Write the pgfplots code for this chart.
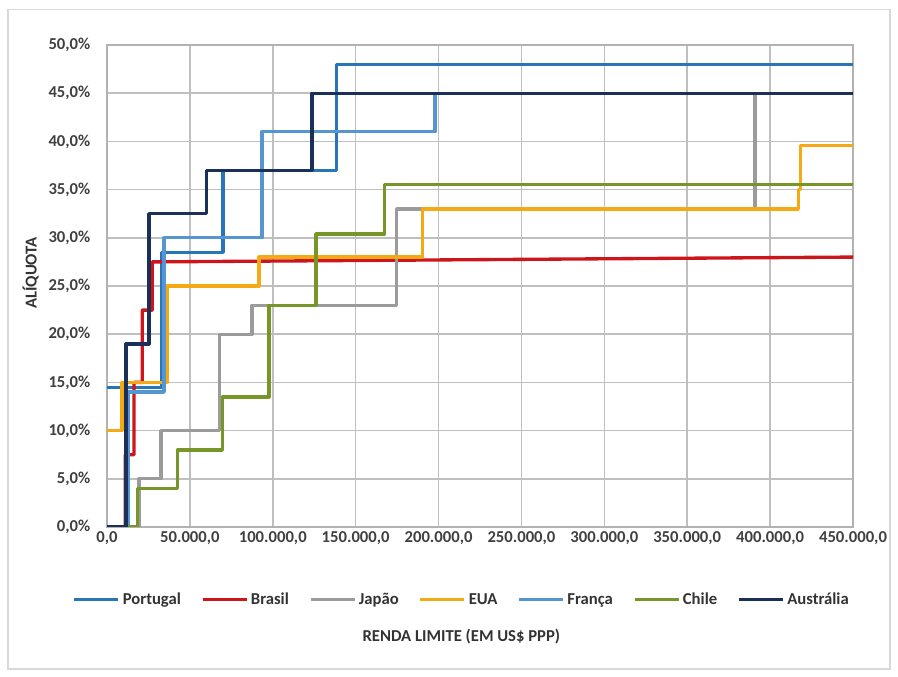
\documentclass[border=0pt]{standalone}
\usepackage{fontspec}
\setmainfont{Carlito}
\usepackage{pgfplots}
\pgfplotsset{compat=1.18}
\definecolor{cPor}{RGB}{40,118,185}
\definecolor{cBra}{RGB}{205,22,28}
\definecolor{cJap}{RGB}{155,155,155}
\definecolor{cEUA}{RGB}{245,170,20}
\definecolor{cFra}{RGB}{85,150,210}
\definecolor{cChi}{RGB}{118,150,40}
\definecolor{cAus}{RGB}{26,48,88}
\begin{document}
\begin{tikzpicture}
\path[use as bounding box] (0,0) rectangle (673.5pt,507.75pt);
\draw[gray!30, line width=1.2pt] (6pt,6pt) rectangle (667.5pt,500.5pt);
\begin{axis}[
  anchor=south west, at={(80.25pt,112.5pt)},
  scale only axis, width=559.5pt, height=361.5pt,
  xmin=0, xmax=450000, ymin=0, ymax=50,
  xtick={0,50000,...,450000}, ytick={0,5,...,50},
  scaled x ticks=false,
  grid=major, major grid style={draw=gray!50, line width=1.1pt},
  axis line style={draw=gray!60, line width=1.1pt},
  tick style={draw=none},
  /pgf/number format/assume math mode=true,
  xticklabel={\pgfmathprintnumber[fixed,fixed zerofill,precision=1,use comma,1000 sep={.},assume math mode=true]{\tick}},
  yticklabel={\pgfmathprintnumber[fixed,fixed zerofill,precision=1,use comma,assume math mode=true]{\tick}\%},
  ticklabel style={font=\bfseries\fontsize{12.5}{14}\selectfont, text=black!75},
  yticklabel style={xshift=-9pt},
  legend style={at={(0.476,-0.151)}, anchor=center, draw=none, fill=none,
    legend columns=7, font=\bfseries\fontsize{12.5}{14}\selectfont, text=black!80,
    /tikz/every even column/.append style={column sep=13pt}},
  legend image code/.code={\draw[#1] (0pt,0pt) -- (33pt,0pt);},
  every axis plot/.append style={line width=2.5pt, line join=round},
]
\addplot[cPor] coordinates {(0,14.5) (33000,14.5) (33000,28.5) (70000,28.5) (70000,37) (138500,37) (138500,48) (450000,48)};
\addlegendentry{Portugal}
\addplot[cBra] coordinates {(0,0) (11000,0) (11000,7.5) (16300,7.5) (16300,15) (21300,15) (21300,22.5) (27300,22.5) (27300,27.5) (450000,28)};
\addlegendentry{Brasil}
\addplot[cJap] coordinates {(0,0) (19300,0) (19300,5) (32500,5) (32500,10) (68000,10) (68000,20) (87500,20) (87500,23) (174700,23) (174700,33) (390800,33) (390800,45) (450000,45)};
\addlegendentry{Japão}
\addplot[cEUA] coordinates {(0,10) (9000,10) (9000,15) (36200,15) (36200,25) (91700,25) (91700,28) (190400,28) (190400,33) (417000,33) (417000,35) (418500,35) (418500,39.6) (450000,39.6)};
\addlegendentry{EUA}
\addplot[cFra] coordinates {(0,0) (12700,0) (12700,14) (34400,14) (34400,30) (93400,30) (93400,41) (197900,41) (197900,45) (450000,45)};
\addlegendentry{França}
\addplot[cChi] coordinates {(0,0) (18300,0) (18300,4) (42500,4) (42500,8) (69600,8) (69600,13.5) (97700,13.5) (97700,23) (126000,23) (126000,30.4) (167400,30.4) (167400,35.5) (450000,35.5)};
\addlegendentry{Chile}
\addplot[cAus] coordinates {(0,0) (11500,0) (11500,19) (25300,19) (25300,32.5) (60000,32.5) (60000,37) (123600,37) (123600,45) (450000,45)};
\addlegendentry{Austrália}
\end{axis}
\node[rotate=90, font=\bfseries\fontsize{12.5}{14}\selectfont, text=black!80] at (23pt,303pt) {ALÍQUOTA};
\node[font=\bfseries\fontsize{12.5}{14}\selectfont, text=black!80] at (346pt,30pt) {RENDA LIMITE (EM US\$ PPP)};
\end{tikzpicture}
\end{document}
